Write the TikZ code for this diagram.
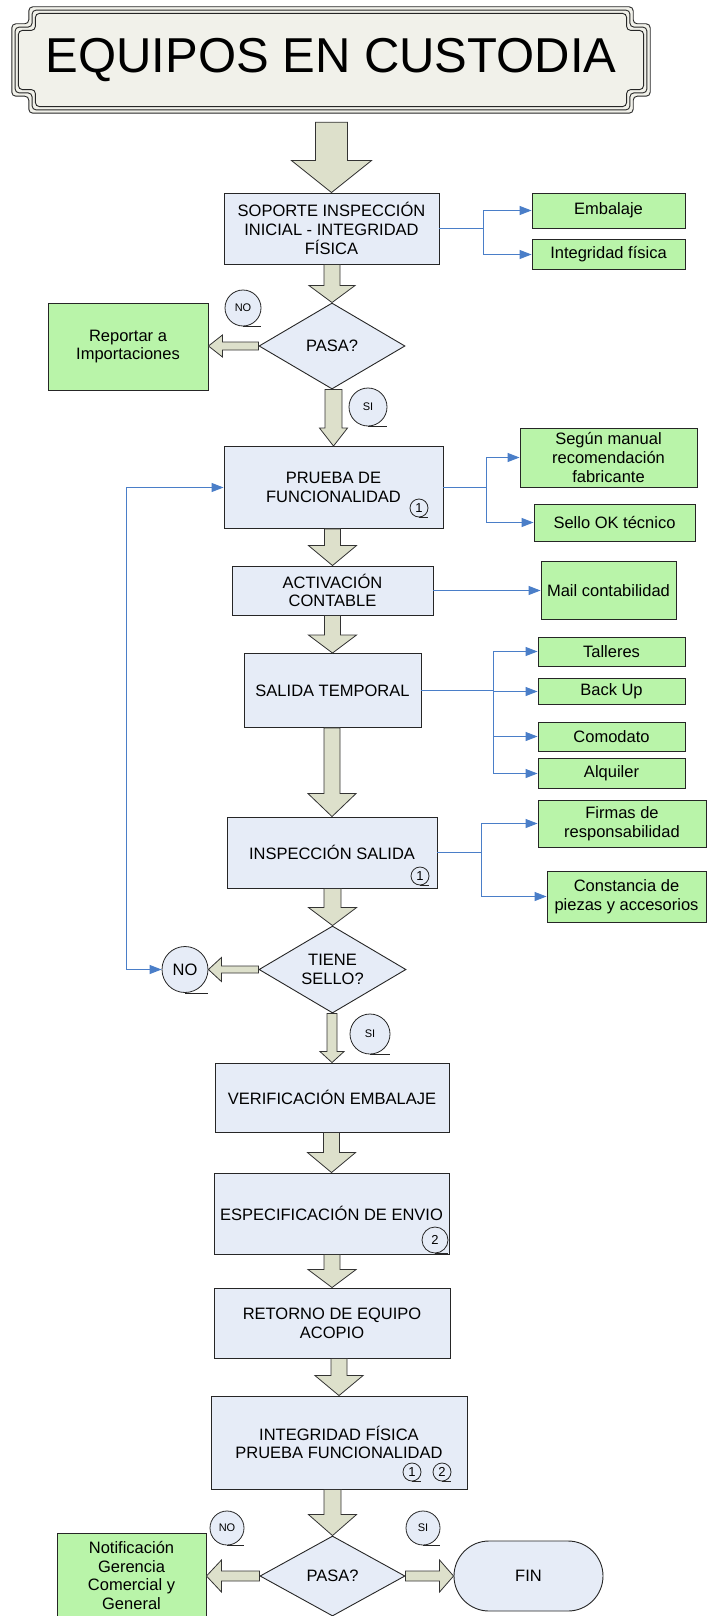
\documentclass[tikz,border=0pt]{standalone}
\usepackage{fontspec}
\setmainfont{Liberation Sans}
\usetikzlibrary{shapes.geometric,arrows.meta,calc,backgrounds}

\definecolor{procfill}{HTML}{E6ECF7}
\definecolor{notefill}{HTML}{B9F4A9}
\definecolor{arrowfill}{HTML}{DDE0CB}
\definecolor{linkblue}{HTML}{4A7EC8}
\definecolor{plaquefill}{HTML}{F1F1EA}

\newcommand\boxfont{\fontsize{16.5}{18.8}\selectfont}
\newcommand\tagfont{\fontsize{11}{13}\selectfont}
\newcommand\markfont{\fontsize{13}{15}\selectfont}
\newcommand\titlefont{\fontsize{49}{56}\selectfont}

\tikzset{
  proc/.style={draw=black!85, line width=0.9pt, fill=procfill, inner sep=0pt, align=center, font=\boxfont},
  note/.style={draw=black!85, line width=0.9pt, fill=notefill, inner sep=0pt, align=center, font=\boxfont},
  decision/.style={diamond, draw=black!85, line width=0.9pt, fill=procfill, inner sep=0pt},
  term/.style={draw=black!85, line width=0.9pt, fill=procfill, rounded corners=35pt, inner sep=0pt, font=\boxfont},
  tag/.style={circle, draw=black!85, line width=0.8pt, fill=procfill, inner sep=0pt},
  tagline/.style={draw=black!85, line width=0.8pt},
  blockarrow/.style={draw=black!80, line width=0.8pt, fill=arrowfill, line join=miter},
  linkline/.style={draw=linkblue, line width=1.1pt},
  link/.style={linkline, -{Triangle[length=12pt,width=9pt]}},
  plaque/.style={draw=black!85, line width=0.9pt, rounded corners=4pt},
}

% vertical block arrow: source, target, shaft half width, head half width, head length, gap below source
\newcommand\downblock[6]{%
  \path[blockarrow] let \p1=(#1.south), \p2=(#2.north) in
    (\x2-#3pt,\y1-#6pt) -- (\x2-#3pt,\y2+#5pt) -- (\x2-#4pt,\y2+#5pt) -- (\x2,\y2)
    -- (\x2+#4pt,\y2+#5pt) -- (\x2+#3pt,\y2+#5pt) -- (\x2+#3pt,\y1-#6pt) -- cycle;}
% block arrow pointing left
\newcommand\leftblock[5]{%
  \path[blockarrow] let \p1=(#1.west), \p2=(#2.east) in
    (\x1,\y1+#3pt) -- (\x2+#5pt,\y1+#3pt) -- (\x2+#5pt,\y1+#4pt) -- (\x2,\y1)
    -- (\x2+#5pt,\y1-#4pt) -- (\x2+#5pt,\y1-#3pt) -- (\x1,\y1-#3pt) -- cycle;}
% block arrow pointing right
\newcommand\rightblock[5]{%
  \path[blockarrow] let \p1=(#1.east), \p2=(#2.west) in
    (\x1,\y1+#3pt) -- (\x2-#5pt,\y1+#3pt) -- (\x2-#5pt,\y1+#4pt) -- (\x2,\y1)
    -- (\x2-#5pt,\y1-#4pt) -- (\x2-#5pt,\y1-#3pt) -- (\x1,\y1-#3pt) -- cycle;}
% round connector mark with its tail line
\newcommand\tagmark[5]{%
  \node[tag,minimum size=#3pt,font=#4] (#1) at (#2) {#5};
  \draw[tagline] (#1.south) -- ++(#3/2,0);}
% one outline of the title plaque, inset by #1
\newcommand\plaqueline[2]{%
  \path[#2] let \p1=(title.north west), \p2=(title.south east) in
    (\x1+17pt+#1pt,\y1-#1pt) -- (\x2-17pt-#1pt,\y1-#1pt) -- (\x2-17pt-#1pt,\y1-17pt-#1pt)
    -- (\x2-#1pt,\y1-17pt-#1pt) -- (\x2-#1pt,\y2+17pt+#1pt) -- (\x2-17pt-#1pt,\y2+17pt+#1pt)
    -- (\x2-17pt-#1pt,\y2+#1pt) -- (\x1+17pt+#1pt,\y2+#1pt) -- (\x1+17pt+#1pt,\y2+17pt+#1pt)
    -- (\x1+#1pt,\y2+17pt+#1pt) -- (\x1+#1pt,\y1-17pt-#1pt) -- (\x1+17pt+#1pt,\y1-17pt-#1pt) -- cycle;}

\begin{document}
\begin{tikzpicture}[x=1pt,y=-1pt]
\useasboundingbox (0,0) rectangle (708,1616);

% title plaque
\node[minimum width=638pt, minimum height=106pt, inner sep=0pt, font=\titlefont] (title) at (331,60) {EQUIPOS EN CUSTODIA};
\begin{scope}[on background layer]
  \plaqueline{0}{plaque, fill=plaquefill}
  \plaqueline{3.3}{plaque}
  \plaqueline{6.6}{plaque}
\end{scope}

% main flow
\node[proc, minimum width=215pt, minimum height=71pt] (soporte) at (331.5,228.5) {SOPORTE INSPECCIÓN\\INICIAL - INTEGRIDAD\\FÍSICA};
\node[decision, minimum width=146pt, minimum height=86pt, label={[font=\boxfont]center:PASA?}] (d1) at (332,346) {};
\node[note, minimum width=160pt, minimum height=87pt] (reportar) at (128,346.5) {Reportar a\\Importaciones};
\node[proc, minimum width=219pt, minimum height=82pt] (prueba) at (333.5,487.5) {PRUEBA DE\\FUNCIONALIDAD};
\node[proc, minimum width=201pt, minimum height=49pt] (activ) at (332.5,590.5) {ACTIVACIÓN\\CONTABLE};
\node[proc, minimum width=177pt, minimum height=74pt] (salida) at (332.5,690.5) {SALIDA TEMPORAL};
\node[proc, minimum width=210pt, minimum height=71pt] (insp) at (332,852.5) {INSPECCIÓN SALIDA};
\node[decision, minimum width=147pt, minimum height=87pt, label={[font=\boxfont,align=center]center:TIENE\\SELLO?}] (d2) at (332.5,969.5) {};
\node[proc, minimum width=234pt, minimum height=69pt] (verif) at (332,1097.5) {VERIFICACIÓN EMBALAJE};
\node[proc, minimum width=235pt, minimum height=81pt] (espec) at (331.5,1213.5) {ESPECIFICACIÓN DE ENVIO};
\node[proc, minimum width=236pt, minimum height=70pt] (retorno) at (332,1323) {RETORNO DE EQUIPO\\ACOPIO};
\node[proc, minimum width=256pt, minimum height=93pt] (integfp) at (339,1442.5) {INTEGRIDAD FÍSICA\\PRUEBA FUNCIONALIDAD};
\node[decision, minimum width=145pt, minimum height=80pt, label={[font=\boxfont]center:PASA?}] (d3) at (332.5,1576) {};
\node[note, minimum width=149pt, minimum height=85pt] (notif) at (131.5,1575.5) {Notificación\\Gerencia\\Comercial y\\General};
\node[term, minimum width=149pt, minimum height=70pt] (fin) at (528.5,1576) {FIN};

% side notes
\node[note, minimum width=153pt, minimum height=35pt] (embalaje) at (608.5,210.5) {Embalaje};
\node[note, minimum width=153pt, minimum height=30pt] (integ) at (608.5,254.5) {Integridad física};
\node[note, minimum width=177pt, minimum height=59pt] (segun) at (608.5,457.5) {Según manual\\recomendación\\fabricante};
\node[note, minimum width=161pt, minimum height=37pt] (sello) at (614.5,522.5) {Sello OK técnico};
\node[note, minimum width=135pt, minimum height=58pt] (mail) at (608.5,590.5) {Mail contabilidad};
\node[note, minimum width=147pt, minimum height=29pt] (talleres) at (611.5,651.5) {Talleres};
\node[note, minimum width=147pt, minimum height=26pt] (backup) at (611.5,691.5) {Back Up};
\node[note, minimum width=147pt, minimum height=29pt] (comodato) at (611.5,736.5) {Comodato};
\node[note, minimum width=147pt, minimum height=30pt] (alquiler) at (611.5,773.5) {Alquiler};
\node[note, minimum width=168pt, minimum height=47pt] (firmas) at (622,823.5) {Firmas de\\responsabilidad};
\node[note, minimum width=159pt, minimum height=51pt] (constancia) at (626.5,896.5) {Constancia de\\piezas y accesorios};

% connector marks
\tagmark{no1}{243,308}{36}{\tagfont}{NO}
\tagmark{si1}{368,407}{38}{\tagfont}{SI}
\tagmark{no2}{185,969.5}{46}{\boxfont}{NO}
\tagmark{si2}{370,1034}{40}{\tagfont}{SI}
\tagmark{no3}{227,1528}{34}{\tagfont}{NO}
\tagmark{si3}{423,1528}{34}{\tagfont}{SI}
\tagmark{ref1a}{419,508}{18}{\markfont}{1}
\tagmark{ref1b}{420,876}{18}{\markfont}{1}
\tagmark{ref2a}{435,1240}{26}{\markfont}{2}
\tagmark{ref1c}{412,1472}{18}{\markfont}{1}
\tagmark{ref2b}{442,1472}{18}{\markfont}{2}

% block arrows of the main flow
\downblock{title}{soporte}{16}{40}{32}{9}
\downblock{soporte}{d1}{8}{23}{17}{0}
\downblock{d1}{prueba}{8.5}{14}{18}{0}
\downblock{prueba}{activ}{8}{24}{20}{0}
\downblock{activ}{salida}{8}{24}{18}{0}
\downblock{salida}{insp}{8}{24}{23}{0}
\downblock{insp}{d2}{8.5}{24}{18}{0}
\downblock{d2}{verif}{5}{12}{11}{0}
\downblock{verif}{espec}{8}{24}{20}{0}
\downblock{espec}{retorno}{8}{24}{18}{0}
\downblock{retorno}{integfp}{8}{24}{20}{0}
\downblock{integfp}{d3}{8.5}{24}{21}{0}
\leftblock{d1}{reportar}{4}{11}{14}
\leftblock{d2}{no2}{3.5}{12}{13}
\leftblock{d3}{notif}{5}{16}{15}
\rightblock{d3}{fin}{5}{16}{14}

% blue links to the side notes: trunk, spine, then one arrow per note
\coordinate (br1) at ($(soporte.east)+(44,0)$);
\draw[linkline] (soporte.east) -- (br1);
\draw[linkline] (br1 |- embalaje.west) -- (br1 |- integ.west);
\draw[link] (br1 |- embalaje.west) -- (embalaje.west);
\draw[link] (br1 |- integ.west) -- (integ.west);

\coordinate (br2) at ($(prueba.east)+(43,0)$);
\draw[linkline] (prueba.east) -- (br2);
\draw[linkline] (br2 |- segun.west) -- (br2 |- sello.west);
\draw[link] (br2 |- segun.west) -- (segun.west);
\draw[link] (br2 |- sello.west) -- (sello.west);

\draw[link] (activ.east) -- (activ.east -| mail.west);

\coordinate (br3) at ($(salida.east)+(72,0)$);
\draw[linkline] (salida.east) -- (br3);
\draw[linkline] (br3 |- talleres.west) -- (br3 |- alquiler.west);
\draw[link] (br3 |- talleres.west) -- (talleres.west);
\draw[link] (br3 |- backup.west) -- (backup.west);
\draw[link] (br3 |- comodato.west) -- (comodato.west);
\draw[link] (br3 |- alquiler.west) -- (alquiler.west);

\coordinate (br4) at ($(insp.east)+(44,0)$);
\draw[linkline] (insp.east) -- (br4);
\draw[linkline] (br4 |- firmas.west) -- (br4 |- constancia.west);
\draw[link] (br4 |- firmas.west) -- (firmas.west);
\draw[link] (br4 |- constancia.west) -- (constancia.west);

% return loop from the seal check
\coordinate (loop) at (126.5,969.5);
\draw[link] (loop) -- (no2.west);
\draw[link] (loop) |- (prueba.west);
\end{tikzpicture}
\end{document}
